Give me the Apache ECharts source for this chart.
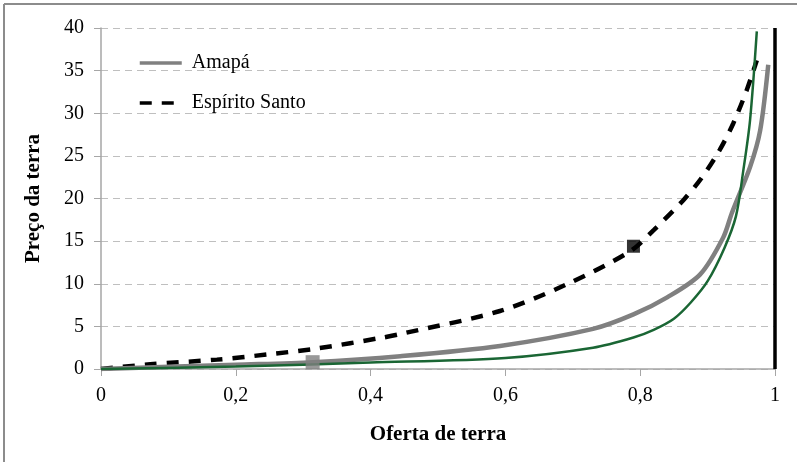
<!DOCTYPE html>
<html><head><meta charset="utf-8">
<script src="https://cdn.jsdelivr.net/npm/echarts@6/dist/echarts.min.js"></script>
<style>html,body{margin:0;padding:0;background:#fff}#c{width:797px;height:462px}</style>
</head><body><div id="c"></div>
<script>
const amapaX = [0, 0.1, 0.2, 0.314, 0.444, 0.592, 0.73, 0.79, 0.84, 0.889, 0.923, 0.936, 0.963, 0.978, 0.99];
const amapaY = [0, 0.25, 0.5, 0.8, 1.5, 2.7, 4.7, 6.4, 8.4, 11.1, 15.4, 18.3, 23.7, 28, 35.7];
const esX = [0, 0.073, 0.172, 0.246, 0.32, 0.419, 0.444, 0.592, 0.69, 0.785, 0.82, 0.864, 0.891, 0.918, 0.938, 0.958, 0.973];
const esY = [0, 0.55, 1.1, 1.7, 2.4, 3.7, 4.1, 6.8, 9.9, 13.8, 16.3, 19.8, 22.4, 25.7, 28.8, 32.7, 36.2];
const greenX = [0, 0.2, 0.4, 0.6, 0.73, 0.79, 0.82, 0.85, 0.875, 0.9, 0.925, 0.942, 0.953, 0.963, 0.973];
const greenY = [0, 0.3, 0.75, 1.3, 2.5, 3.7, 4.6, 5.9, 7.8, 10.3, 14.2, 17.9, 23.3, 29.2, 39.6];
const limitX = [1, 1];
const limitY = [0, 40];
const amapaPoint = [0.314, 0.8];
const esPoint = [0.79, 14.4];
const xTicks = ['0', '0,2', '0,4', '0,6', '0,8', '1'];

const zip = (xs, ys) => xs.map((x, i) => [x, ys[i]]);
const font = '"Liberation Serif", "Times New Roman", serif';
const chart = echarts.init(document.getElementById('c'));
chart.setOption({
  animation: false,
  backgroundColor: '#fff',
  textStyle: { fontFamily: font },
  grid: { left: 101, right: 22, top: 28, bottom: 93 },
  legend: {
    data: ['Amapá', 'Espírito Santo'],
    orient: 'vertical', left: 133, top: 48, itemGap: 20,
    itemWidth: 42, itemHeight: 20,
    itemStyle: { opacity: 0 },
    lineStyle: { width: 3.5 },
    textStyle: { fontFamily: font, fontSize: 20, color: '#000', padding: [0, 0, 0, 5] }
  },
  xAxis: {
    type: 'value', min: 0, max: 1, interval: 0.2,
    name: 'Oferta de terra', nameLocation: 'middle', nameGap: 55,
    nameTextStyle: { fontFamily: font, fontSize: 21, fontWeight: 'bold', color: '#000' },
    axisLine: { lineStyle: { color: '#a6a6a6', width: 1.5 } },
    axisTick: { show: true, length: 7, lineStyle: { color: '#a6a6a6' } },
    splitLine: { show: false },
    axisLabel: { fontFamily: font, fontSize: 20, color: '#000', margin: 17,
      formatter: v => xTicks[Math.round(v / 0.2)] }
  },
  yAxis: {
    type: 'value', min: 0, max: 40, interval: 5,
    name: 'Preço da terra', nameLocation: 'middle', nameGap: 57,
    nameTextStyle: { fontFamily: font, fontSize: 21, fontWeight: 'bold', color: '#000' },
    axisLine: { show: true, lineStyle: { color: '#a6a6a6', width: 1.5 } },
    axisTick: { show: true, length: 7, lineStyle: { color: '#a6a6a6' } },
    splitLine: { show: true, lineStyle: { color: '#bfbfbf', width: 1, type: [7, 5] } },
    axisLabel: { fontFamily: font, fontSize: 20, color: '#000', margin: 17 }
  },
  graphic: [
    { type: 'line', shape: { x1: 4, y1: 4, x2: 797, y2: 4 }, style: { stroke: '#8c8c8c', lineWidth: 2 } },
    { type: 'line', shape: { x1: 4, y1: 4, x2: 4, y2: 462 }, style: { stroke: '#8c8c8c', lineWidth: 2 } }
  ],
  series: [
    { name: 'limit', type: 'line', data: zip(limitX, limitY), symbol: 'none',
      lineStyle: { color: '#000', width: 3.5 }, z: 1 },
    { name: 'green', type: 'line', data: zip(greenX, greenY), symbol: 'none', smooth: 0.3,
      lineStyle: { color: '#1a6634', width: 2.5 }, z: 4 },
    { name: 'Amapá', type: 'line', data: zip(amapaX, amapaY), symbol: 'none', smooth: 0.3,
      itemStyle: { color: '#808080' },
      lineStyle: { color: '#808080', width: 4.5 }, z: 3 },
    { name: 'Espírito Santo', type: 'line', data: zip(esX, esY), symbol: 'none', smooth: 0.3,
      itemStyle: { color: '#000' },
      lineStyle: { color: '#000', width: 4.5, type: [12, 10] }, z: 2 },
    { name: 'amapaPt', type: 'scatter', data: [amapaPoint], symbol: 'rect', symbolSize: 14,
      itemStyle: { color: '#7f7f7f' }, z: 6 },
    { name: 'esPt', type: 'scatter', data: [esPoint], symbol: 'rect', symbolSize: 13,
      itemStyle: { color: '#000' }, z: 6 }
  ]
});
</script></body></html>
